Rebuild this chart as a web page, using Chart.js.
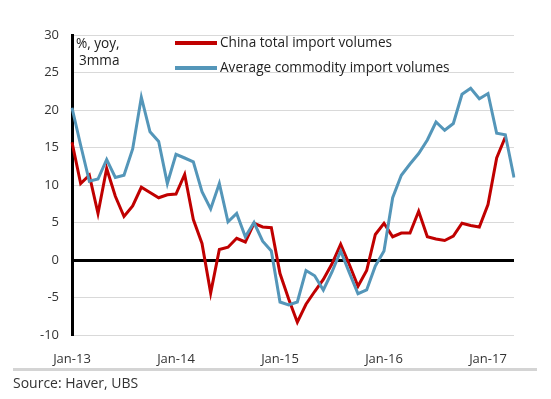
<!DOCTYPE html>
<html>
<head>
<meta charset="utf-8">
<script src="https://cdn.jsdelivr.net/npm/chart.js@4/dist/chart.umd.min.js"></script>
<style>
  html, body { margin: 0; padding: 0; background: #fff; }
  .wrap { position: relative; width: 551px; height: 399px; }
  canvas { position: absolute; left: 0; top: 0; }
  .rule { position: absolute; left: 13px; top: 368px; width: 524px; height: 3px; background: #d4d4d4; }
  .source { position: absolute; left: 13px; top: 373px; font: 14px "Open Sans", sans-serif; color: #333; }
</style>
</head>
<body>
<div class="wrap">
  <canvas id="chart" width="551" height="399"></canvas>
  <div class="rule"></div>
  <div class="source">Source: Haver, UBS</div>
</div>
<script>
const MONTHS = ["Jan","Feb","Mar","Apr","May","Jun","Jul","Aug","Sep","Oct","Nov","Dec"];
const labels = [];
for (let y = 13; y <= 17; y++) {
    MONTHS.forEach((m, i) => { if (y < 17 || i < 4) labels.push(`${m}-${y}`); });
}

const yTicks = [-10, -5, 0, 5, 10, 15, 20, 25, 30];

// China total import volumes, Jan-13 .. Mar-17
const chinaTotal = [
    15.7, 10.2, 11.3, 6.2, 12.2, 8.5, 5.8, 7.2, 9.7, 9.0, 8.3, 8.7,
    8.8, 11.4, 5.4, 2.2, -4.4, 1.4, 1.7, 2.9, 2.4, 4.9, 4.4, 4.3,
    -1.8, -5.2, -8.3, -5.9, -4.2, -2.6, -0.5, 2.1, -0.6, -3.5, -1.4, 3.4,
    4.9, 3.1, 3.6, 3.6, 6.5, 3.1, 2.8, 2.6, 3.2, 4.9, 4.6, 4.4,
    7.4, 13.6, 16.4
];

// Average commodity import volumes, Jan-13 .. Apr-17
const commodity = [
    20.3, 15.3, 10.5, 10.8, 13.4, 11.0, 11.3, 14.8, 21.7, 17.1, 15.8, 10.2,
    14.1, 13.6, 13.1, 9.1, 6.8, 10.2, 5.1, 6.2, 3.1, 5.0, 2.5, 1.2,
    -5.6, -6.0, -5.6, -1.4, -2.1, -4.0, -1.6, 1.2, -1.7, -4.5, -4.0, -0.8,
    1.2, 8.3, 11.3, 12.8, 14.2, 16.0, 18.4, 17.3, 18.2, 22.1, 22.9, 21.5,
    22.2, 16.9, 16.7, 11.0
];

const RED  = "#c00000";
const BLUE = "#5496b9";
const FONT = "'Open Sans', sans-serif";

/* legend + unit note drawn inside the plot */
const overlay = {
    id: "overlay",
    afterDraw(chart) {
        const ctx = chart.ctx;
        ctx.save();
        ctx.fillStyle = "#222";
        ctx.font = `13.6px ${FONT}`;
        ctx.textBaseline = "middle";
        ctx.textAlign = "left";
        ctx.fillText("%, yoy,", 76, 44);
        ctx.fillText("3mma", 79, 61);

        chart.data.datasets.forEach((ds, i) => {
            const y = 43 + i * 25;
            ctx.strokeStyle = ds.borderColor;
            ctx.lineWidth = 4;
            ctx.beginPath();
            ctx.moveTo(175, y);
            ctx.lineTo(217, y);
            ctx.stroke();
            ctx.fillStyle = "#222";
            ctx.fillText(ds.label, 220, y);
        });
        ctx.restore();
    }
};

new Chart(document.getElementById("chart"), {
    type: "line",
    data: {
        labels: labels,
        datasets: [
            {
                label: "China total import volumes",
                data: chinaTotal,
                borderColor: RED,
                borderWidth: 3,
                pointRadius: 0,
                tension: 0,
                order: 1,
            },
            {
                label: "Average commodity import volumes",
                data: commodity,
                borderColor: BLUE,
                borderWidth: 3,
                pointRadius: 0,
                tension: 0,
                order: 0,
            }
        ]
    },
    options: {
        responsive: false,
        animation: false,
        layout: { padding: { top: 35, right: 37, left: 0, bottom: 0 } },
        plugins: { legend: { display: false }, tooltip: { enabled: false } },
        scales: {
            x: {
                offset: false,
                grid: { display: false },
                border: { display: false },
                afterFit: s => { s.height = 64; },
                ticks: {
                    autoSkip: false,
                    maxRotation: 0,
                    padding: 8,
                    color: "#333",
                    font: { family: FONT, size: 13 },
                    callback: function (v) {
                        const l = this.getLabelForValue(v);
                        return l.startsWith("Jan") ? l : null;
                    }
                }
            },
            y: {
                min: -10,
                max: 30,
                afterFit: s => { s.width = 72; },
                afterBuildTicks: s => { s.ticks = yTicks.map(v => ({ value: v })); },
                border: { display: true, color: "#000", width: 3 },
                grid: {
                    drawTicks: false,
                    color: c => c.tick.value === 0 ? "#000" : "#d9d9d9",
                    lineWidth: c => c.tick.value === 0 ? 3 : 1,
                },
                ticks: {
                    padding: 13,
                    color: "#333",
                    font: { family: FONT, size: 13 }
                }
            }
        }
    },
    plugins: [overlay]
});
</script>
</body>
</html>
